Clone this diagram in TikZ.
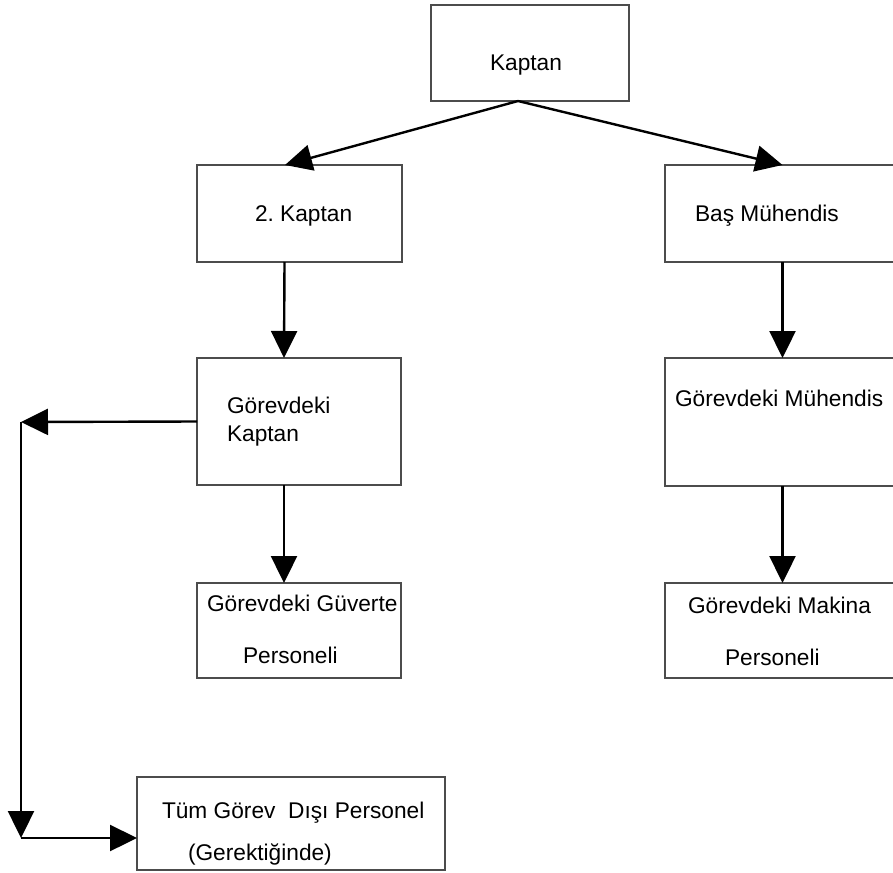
\documentclass[tikz,border=0pt]{standalone}
\usepackage{fontspec}
\setmainfont{Liberation Sans}
\frenchspacing
\usetikzlibrary{arrows.meta}
\begin{document}
\begin{tikzpicture}[x=1pt,y=-1pt,
  box/.style={draw=black!70, line width=1.3pt, rectangle, inner sep=0pt, outer sep=0pt, anchor=north west, fill=white},
  txt/.style={anchor=base west, inner sep=0pt, outer sep=0pt, font=\fontsize{22.7}{27}\selectfont},
  arr/.style={line width=2.4pt, -{Triangle[length=27pt,width=26pt]}}]
\useasboundingbox (0,0) rectangle (893,872);
\clip (0,0) rectangle (893,872);
\fill[white] (0,0) rectangle (893,872);
% boxes
\node[box, minimum width=198pt, minimum height=96pt] (k) at (431,5) {};
\node[box, minimum width=205pt, minimum height=97pt] (k2) at (197,165) {};
\node[box, minimum width=235pt, minimum height=97pt] (bm) at (665,165) {};
\node[box, minimum width=204pt, minimum height=127pt] (gk) at (197,358) {};
\node[box, minimum width=235pt, minimum height=128pt] (gm) at (665,358) {};
\node[box, minimum width=204pt, minimum height=95pt] (gp) at (197,583) {};
\node[box, minimum width=235pt, minimum height=95pt] (mp) at (665,583) {};
\node[box, minimum width=308pt, minimum height=93pt] (tum) at (137,777) {};
% texts
\node[txt] (tk) at (490,71) {Kaptan};
\node[txt] (tk2) at (255,221) {2. Kaptan};
\node[txt] (tbm) at (695,221) {Baş Mühendis};
\node[txt] (tgk1) at (227,413) {Görevdeki};
\node[txt] (tgk2) at (227,441) {Kaptan};
\node[txt] (tgm) at (675,406) {Görevdeki Mühendis};
\node[txt] (tgp1) at (207,611) {Görevdeki Güverte};
\node[txt] (tgp2) at (243,663) {Personeli};
\node[txt] (tmp1) at (688,613) {Görevdeki Makina};
\node[txt] (tmp2) at (725,665) {Personeli};
\node[txt] (tt1) at (162,818) {Tüm Görev\ \ Dışı Personel};
\node[txt] (tt2) at (188,860) {(Gerektiğinde)};
% connectors
\draw[arr] ([xshift=-12pt]k.south) -- ([xshift=-14.5pt]k2.north);
\draw[arr] ([xshift=-12pt]k.south) -- (bm.north);
\draw[arr] ([xshift=-15pt]k2.south) -- ([xshift=-15pt]gk.north);
\draw[arr] ([xshift=-15pt]gk.south) -- ([xshift=-15pt]gp.north);
\draw[arr] (bm.south) -- (gm.north);
\draw[arr] (gm.south) -- (mp.north);
\coordinate (c1) at (21,422);
\coordinate (c2) at (21,838);
\draw[arr] (gk.west) -- (c1);
\draw[arr] (c1) -- (c2);
\draw[arr] (c2) -- (tum.west |- c2);
\end{tikzpicture}
\end{document}
